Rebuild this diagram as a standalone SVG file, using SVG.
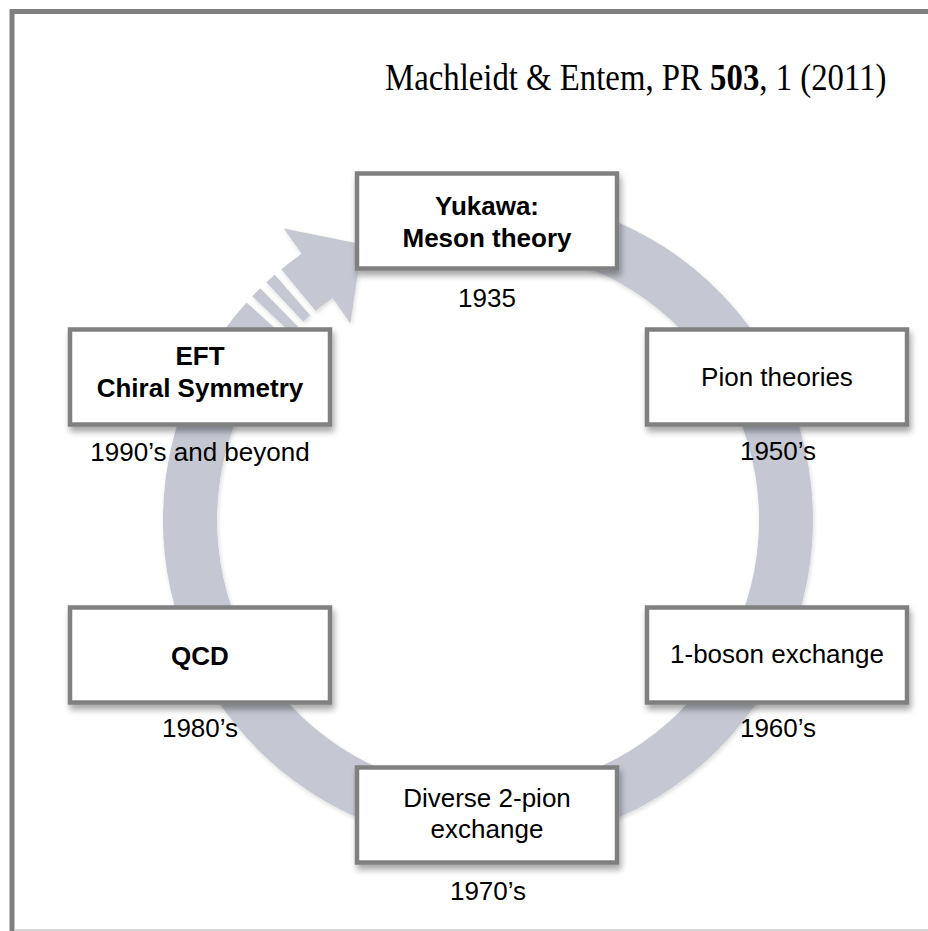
<svg xmlns="http://www.w3.org/2000/svg" width="928" height="931" viewBox="0 0 928 931">
<style>
.box{fill:#fff;stroke:#808080;stroke-width:4.5}
.t{font-family:"Liberation Sans",Arial,Helvetica,sans-serif;font-size:26px;fill:#000;text-anchor:middle}
.b{font-weight:bold}
.ring{fill:#c5c8d2}
</style>
<defs>
<filter id="sh" x="-10%" y="-10%" width="130%" height="140%">
<feGaussianBlur in="SourceAlpha" stdDeviation="3"/>
<feOffset dx="2" dy="5" result="o"/>
<feComponentTransfer><feFuncA type="linear" slope="0.35"/></feComponentTransfer>
<feMerge><feMergeNode/><feMergeNode in="SourceGraphic"/></feMerge>
</filter>
<filter id="rsh" x="-10%" y="-10%" width="120%" height="120%">
<feGaussianBlur in="SourceAlpha" stdDeviation="2"/>
<feOffset dx="1" dy="2"/>
<feComponentTransfer><feFuncA type="linear" slope="0.15"/></feComponentTransfer>
<feMerge><feMergeNode/><feMergeNode in="SourceGraphic"/></feMerge>
</filter>
</defs>
<rect x="0" y="0" width="928" height="931" fill="#fff"/>
<line x1="15" y1="930" x2="928" y2="930" stroke="#c8c8c8" stroke-width="1.5"/>
<rect x="12" y="11.5" width="1000" height="1000" fill="none" stroke="#808080" stroke-width="5"/>
<text transform="translate(385,90) scale(0.863,1)" x="0" y="0" font-family="'Liberation Serif','Times New Roman',serif" font-size="38">Machleidt &amp; Entem, PR <tspan font-weight="bold">503</tspan>, 1 (2011)</text>
<g id="connectors" filter="url(#rsh)">
<path class="ring" d="M403.9,206.1 A325,325 0 1 1 246.5,302.5 L286.6,338.7 A271,271 0 1 0 417.9,258.2 Z"/>
<path class="ring" d="M252.2,296.3 A325,325 0 0 1 260.2,288.2 L298.1,326.7 A271,271 0 0 0 291.4,333.4 Z"/>
<path class="ring" d="M266.3,282.3 A325,325 0 0 1 274.8,274.7 L310.2,315.5 A271,271 0 0 0 303.2,321.8 Z"/>
<path class="ring" d="M281.3,269.2 A325,325 0 0 1 301.6,253.8 L283.8,228.4 L362.1,244.3 L350.4,323.4 L332.6,298 A271,271 0 0 0 315.6,310.9 Z"/>
</g>
<g id="yukawa">
<rect class="box" x="357" y="173.5" width="260" height="95" filter="url(#sh)"/>
<text class="t b" x="487" y="215">Yukawa:</text>
<text class="t b" x="487" y="247">Meson theory</text>
<text class="t" x="487" y="307">1935</text>
</g>
<g id="pion">
<rect class="box" x="647" y="329.5" width="260" height="95" filter="url(#sh)"/>
<text class="t" x="777" y="386">Pion theories</text>
<text class="t" x="778" y="460">1950’s</text>
</g>
<g id="oneboson">
<rect class="box" x="647" y="607.5" width="260" height="95" filter="url(#sh)"/>
<text class="t" x="777" y="663">1-boson exchange</text>
<text class="t" x="778" y="737">1960’s</text>
</g>
<g id="diverse">
<rect class="box" x="357" y="767.5" width="260" height="95" filter="url(#sh)"/>
<text class="t" x="487" y="807">Diverse 2-pion</text>
<text class="t" x="487" y="838">exchange</text>
<text class="t" x="488" y="900">1970’s</text>
</g>
<g id="qcd">
<rect class="box" x="70" y="607.5" width="260" height="95" filter="url(#sh)"/>
<text class="t b" x="200" y="665">QCD</text>
<text class="t" x="200" y="737">1980’s</text>
</g>
<g id="eft">
<rect class="box" x="70" y="329.5" width="260" height="95" filter="url(#sh)"/>
<text class="t b" x="200" y="365">EFT</text>
<text class="t b" x="200" y="397">Chiral Symmetry</text>
<text class="t" x="200" y="461">1990’s and beyond</text>
</g>
</svg>
